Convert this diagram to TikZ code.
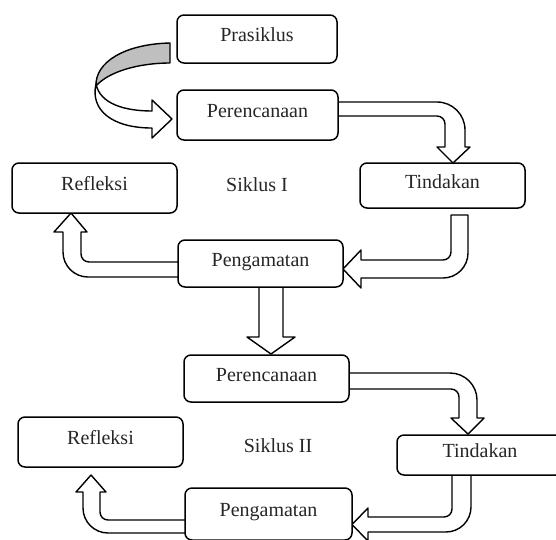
\documentclass[tikz,border=0pt]{standalone}
\usepackage{fontspec}
\setmainfont{Liberation Serif}
\begin{document}
\begin{tikzpicture}[x=1pt,y=-1pt,
  box/.style={draw, line width=1.5pt, rounded corners=7pt, fill=white, inner sep=0pt,
    font=\fontsize{20}{24}\selectfont, text=black!85, text height=14pt, text depth=9pt},
  barrow/.style={draw, line width=1.4pt, fill=white, line join=round},
  lbl/.style={font=\fontsize{20}{24}\selectfont, text=black!85, text height=14pt, text depth=9pt}]
\fill[white] (0,0) rectangle (556,539);
\useasboundingbox (0,0) rectangle (556,539);
\clip (0,0) rectangle (556,539);

% block arrows (drawn first, boxes on top)
% Prasiklus -> Perencanaan (curved ribbon)
\path[barrow] (96,84) .. controls (100,104) and (125,111) .. (152,111) -- (152,100) -- (172,119)
  -- (152,138) -- (152,128) .. controls (112,128) and (90,110) .. (96,84) -- cycle;
\path[barrow, fill=black!25] (170,43) .. controls (125,44) and (95,62) .. (96,86)
  .. controls (108,72) and (138,63) .. (170,63) -- cycle;
% Perencanaan I -> Tindakan I
\path[barrow] (330,102) -- (437,102) .. controls (452.5,102) and (465,114.5) .. (465,130)
  -- (465,147) -- (470,147) -- (453,163) -- (437,147) -- (445,147) -- (445,124)
  .. controls (445,119.6) and (441.4,116) .. (437,116) -- (330,116) -- cycle;
% Tindakan I -> Pengamatan I
\path[barrow] (451,215) -- (468,215) -- (468,253) .. controls (468,266.8) and (456.8,278) .. (443,278)
  -- (361,278) -- (361,288) -- (343,269) -- (361,250) -- (361,260) -- (443,260)
  .. controls (447.4,260) and (451,256.4) .. (451,252) -- cycle;
% Pengamatan I -> Refleksi I
\path[barrow] (190,262) -- (89,262) .. controls (84.6,262) and (81,258.4) .. (81,254) -- (81,232)
  -- (87,232) -- (71,213) -- (54,232) -- (63,232) -- (63,252)
  .. controls (63,265.8) and (74.2,277) .. (88,277) -- (190,277) -- cycle;
% Pengamatan I -> Perencanaan II
\path[barrow] (259,280) -- (283,280) -- (283,337) -- (295,337) -- (271,354) -- (247,337) -- (259,337) -- cycle;
% Perencanaan II -> Tindakan II
\path[barrow] (340,373) -- (450,373) .. controls (464.9,373) and (477,385.1) .. (477,400)
  -- (477,418) -- (484,418) -- (468,434) -- (451,418) -- (459,418) -- (459,397)
  .. controls (459,392.6) and (455.4,389) .. (451,389) -- (340,389) -- cycle;
% Tindakan II -> Pengamatan II
\path[barrow] (452,470) -- (471,470) -- (471,507) .. controls (471,520.8) and (459.8,532) .. (446,532)
  -- (368,532) -- (368,541) -- (352,524.5) -- (368,508) -- (368,517) -- (444,517)
  .. controls (448.4,517) and (452,513.4) .. (452,509) -- cycle;
% Pengamatan II -> Refleksi II
\path[barrow] (195,520) -- (108,520) .. controls (103.6,520) and (100,516.4) .. (100,512) -- (100,492)
  -- (106,492) -- (91,475) -- (76,492) -- (83,492) -- (83,508)
  .. controls (83,521.8) and (94.2,533) .. (108,533) -- (195,533) -- cycle;

% boxes
\node[box, minimum width=160pt, minimum height=48pt] (pra) at (257,39) {Prasiklus};
\node[box, minimum width=161pt, minimum height=50pt] (per1) at (257.5,115) {Perencanaan};
\node[box, minimum width=165pt, minimum height=50pt] (ref1) at (94.5,188) {Refleksi};
\node[box, minimum width=165pt, minimum height=45pt] (tin1) at (442.5,185.5) {Tindakan};
\node[box, minimum width=165pt, minimum height=47pt] (pen1) at (260.5,263.5) {Pengamatan};
\node[lbl] (sik1) at (257,189) {Siklus I};
\node[box, minimum width=165pt, minimum height=47pt] (per2) at (266.5,378.5) {Perencanaan};
\node[box, minimum width=165pt, minimum height=50pt] (ref2) at (100.5,442) {Refleksi};
\node[box, minimum width=166pt, minimum height=40pt] (tin2) at (480,455) {Tindakan};
\node[box, minimum width=167pt, minimum height=52pt] (pen2) at (268.5,514) {Pengamatan};
\node[lbl] (sik2) at (278,450) {Siklus II};
\end{tikzpicture}
\end{document}
